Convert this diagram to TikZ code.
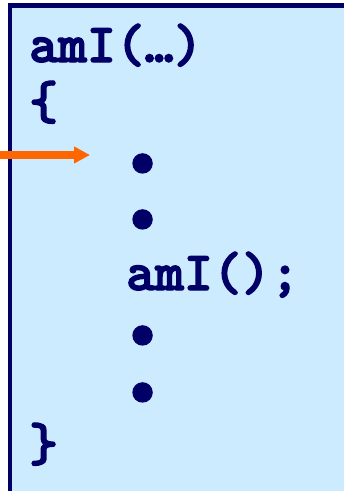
\documentclass[tikz,border=0pt]{standalone}
\usepackage{fontspec}
\newfontfamily\codefont{lmmonolt10-bold}[Extension=.otf,FakeBold=2.5]
\usetikzlibrary{arrows.meta}
\definecolor{navy}{HTML}{000066}
\definecolor{paleblue}{HTML}{CCEBFF}
\definecolor{arroworange}{HTML}{FF6600}
\tikzset{code/.style={anchor=base west,inner sep=0pt,text=navy,font=\codefont\fontsize{55}{55}\selectfont},
  dot/.style={code,font=\codefont\fontsize{66}{66}\selectfont}}
\begin{document}
\begin{tikzpicture}[x=1pt,y=-1pt]
\useasboundingbox (0,0) rectangle (344,491);
\draw[navy,line width=4.5pt,fill=paleblue] (10,5.5) rectangle (352,500);
\node[code] (head) at (29,62) {amI(…)};
\node[code] (open) at (29,119) {\{};
\node[dot] (dotA) at (125,179) {•};
\node[dot] (dotB) at (125,235) {•};
\node[code] (call) at (126,290) {amI();};
\node[dot] (dotC) at (125,351) {•};
\node[dot] (dotD) at (125,408) {•};
\node[code] (close) at (29,461) {\}};
\coordinate (from) at (0,155);
\coordinate (into) at (90,155);
\draw[arroworange,line width=7.5pt,-{Triangle[length=16pt,width=16pt]}] (from) -- (into);
\end{tikzpicture}
\end{document}
